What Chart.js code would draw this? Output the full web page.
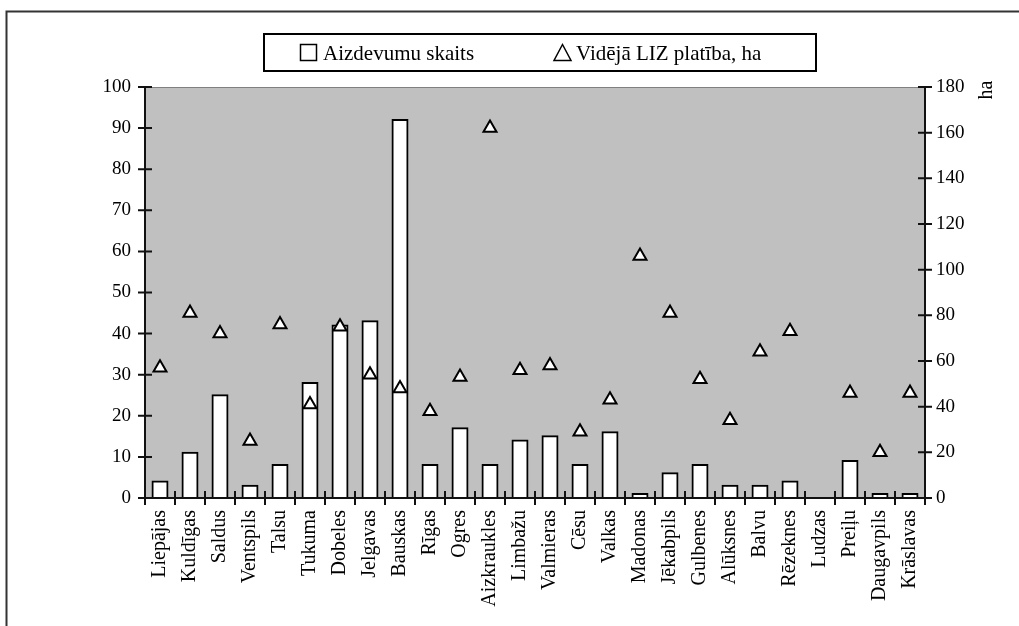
<!DOCTYPE html>
<html>
<head>
<meta charset="utf-8">
<script src="https://cdn.jsdelivr.net/npm/chart.js@4/dist/chart.umd.min.js"></script>
<style>
  html, body { margin: 0; padding: 0; background: #ffffff; }
  #wrap { width: 1019px; height: 626px; position: relative; }
</style>
</head>
<body>
<div id="wrap"><canvas id="c" width="1019" height="626"></canvas></div>
<script>
// ---- data ----
const categories = ['Liepājas','Kuldīgas','Saldus','Ventspils','Talsu','Tukuma','Dobeles','Jelgavas','Bauskas','Rīgas','Ogres','Aizkraukles','Limbažu','Valmieras','Cēsu','Valkas','Madonas','Jēkabpils','Gulbenes','Alūksnes','Balvu','Rēzeknes','Ludzas','Preiļu','Daugavpils','Krāslavas'];
const loanCount = [4, 11, 25, 3, 8, 28, 42, 43, 92, 8, 17, 8, 14, 15, 8, 16, 1, 6, 8, 3, 3, 4, 0, 9, 1, 1];
const avgArea = [57, 81, 72, 25, 76, 41, 75, 54, 48, 38, 53, 162, 56, 58, 29, 43, 106, 81, 52, 34, 64, 73, null, 46, 20, 46];
const seriesLabels = ['Aizdevumu skaits', 'Vidējā LIZ platība, ha'];
const leftTicks = [0, 10, 20, 30, 40, 50, 60, 70, 80, 90, 100];
const rightTicks = [0, 20, 40, 60, 80, 100, 120, 140, 160, 180];
const rightAxisTitle = 'ha';

const FONT = '"Liberation Serif", "DejaVu Serif", serif';

const framePlugin = {
  id: 'frame',
  beforeDraw(chart) {
    const ctx = chart.ctx;
    const a = chart.chartArea;
    ctx.save();
    ctx.fillStyle = '#ffffff';
    ctx.fillRect(0, 0, chart.width, chart.height);
    // outer border (cropped on right/bottom)
    ctx.strokeStyle = '#333333';
    ctx.lineWidth = 2;
    ctx.strokeRect(6.5, 11.5, 1200, 800);
    // plot area
    ctx.fillStyle = '#c0c0c0';
    ctx.fillRect(a.left, a.top, a.right - a.left, a.bottom - a.top);
    ctx.strokeStyle = '#808080';
    ctx.lineWidth = 1;
    ctx.beginPath();
    ctx.moveTo(a.left, a.top + 0.5);
    ctx.lineTo(a.right, a.top + 0.5);
    ctx.stroke();
    ctx.restore();
  },
  afterDraw(chart) {
    const ctx = chart.ctx;
    const a = chart.chartArea;
    const xs = chart.scales.x, yl = chart.scales.y, yr = chart.scales.y2;
    ctx.save();
    ctx.strokeStyle = '#111111';
    ctx.lineWidth = 2;
    ctx.beginPath();
    // axis lines
    ctx.moveTo(a.left, a.top); ctx.lineTo(a.left, a.bottom);
    ctx.moveTo(a.right, a.top); ctx.lineTo(a.right, a.bottom);
    ctx.moveTo(a.left - 7, a.bottom); ctx.lineTo(a.right + 7, a.bottom);
    // left ticks (crossing)
    leftTicks.forEach(v => {
      const y = yl.getPixelForValue(v);
      ctx.moveTo(a.left - 7, y); ctx.lineTo(a.left + 7, y);
    });
    rightTicks.forEach(v => {
      const y = yr.getPixelForValue(v);
      ctx.moveTo(a.right - 7, y); ctx.lineTo(a.right + 7, y);
    });
    // x ticks at category boundaries
    const n = categories.length;
    for (let i = 0; i <= n; i++) {
      let x;
      if (i === 0) x = a.left;
      else if (i === n) x = a.right;
      else x = (xs.getPixelForValue(i - 1) + xs.getPixelForValue(i)) / 2;
      ctx.moveTo(x, a.bottom - 7); ctx.lineTo(x, a.bottom + 7);
    }
    ctx.stroke();

    // right axis title
    ctx.fillStyle = '#000000';
    ctx.font = '20px ' + FONT;
    ctx.textAlign = 'center';
    ctx.textBaseline = 'middle';
    ctx.translate(987, 90);
    ctx.rotate(-Math.PI / 2);
    ctx.fillText(rightAxisTitle, 0, 0);
    ctx.setTransform(1, 0, 0, 1, 0, 0);

    // legend
    ctx.fillStyle = '#ffffff';
    ctx.fillRect(264, 34, 552, 37);
    ctx.strokeStyle = '#000000';
    ctx.lineWidth = 2;
    ctx.strokeRect(264, 34, 552, 37);
    ctx.lineWidth = 1.5;
    // square symbol
    ctx.strokeRect(300.5, 44.5, 16, 16);
    // triangle symbol
    ctx.beginPath();
    ctx.moveTo(562.5, 44.5);
    ctx.lineTo(571, 60.5);
    ctx.lineTo(554, 60.5);
    ctx.closePath();
    ctx.stroke();
    ctx.fillStyle = '#000000';
    ctx.font = '21px ' + FONT;
    ctx.textAlign = 'left';
    ctx.textBaseline = 'middle';
    ctx.fillText(chart.data.datasets[1].label, 323, 54);
    ctx.fillText(chart.data.datasets[0].label, 576, 54);
    ctx.restore();
  }
};

new Chart(document.getElementById('c'), {
  data: {
    labels: categories,
    datasets: [
      {
        type: 'line',
        label: seriesLabels[1],
        data: avgArea,
        yAxisID: 'y2',
        showLine: false,
        pointStyle: 'triangle',
        pointRadius: 7.5,
        pointBorderWidth: 2,
        pointBackgroundColor: '#ffffff',
        pointBorderColor: '#000000',
        order: 0
      },
      {
        type: 'bar',
        label: seriesLabels[0],
        data: loanCount,
        yAxisID: 'y',
        backgroundColor: '#ffffff',
        borderColor: '#000000',
        borderWidth: 2,
        borderSkipped: false,
        inflateAmount: 1,
        categoryPercentage: 1,
        barPercentage: 0.5,
        order: 1
      }
    ]
  },
  options: {
    responsive: false,
    animation: false,
    events: [],
    layout: { padding: { top: 87, left: 0, right: 0, bottom: 0 } },
    plugins: { legend: { display: false }, tooltip: { enabled: false } },
    scales: {
      x: {
        type: 'category',
        offset: true,
        grid: { display: false, drawTicks: false },
        border: { display: false },
        ticks: {
          autoSkip: false, maxRotation: 90, minRotation: 90, padding: 12,
          color: '#000000', font: { family: FONT, size: 20 }
        },
        afterFit(s) { s.height = 128; }
      },
      y: {
        position: 'left', min: 0, max: 100,
        grid: { display: false, drawTicks: false },
        border: { display: false },
        ticks: {
          stepSize: 10, padding: 14, color: '#000000',
          font: { family: FONT, size: 19 }
        },
        afterFit(s) { s.width = 145; }
      },
      y2: {
        position: 'right', min: 0, max: 180,
        grid: { display: false, drawTicks: false },
        border: { display: false },
        ticks: {
          stepSize: 20, padding: 11, color: '#000000',
          font: { family: FONT, size: 19 }
        },
        afterFit(s) { s.width = 94; }
      }
    }
  },
  plugins: [framePlugin]
});
</script>
</body>
</html>
